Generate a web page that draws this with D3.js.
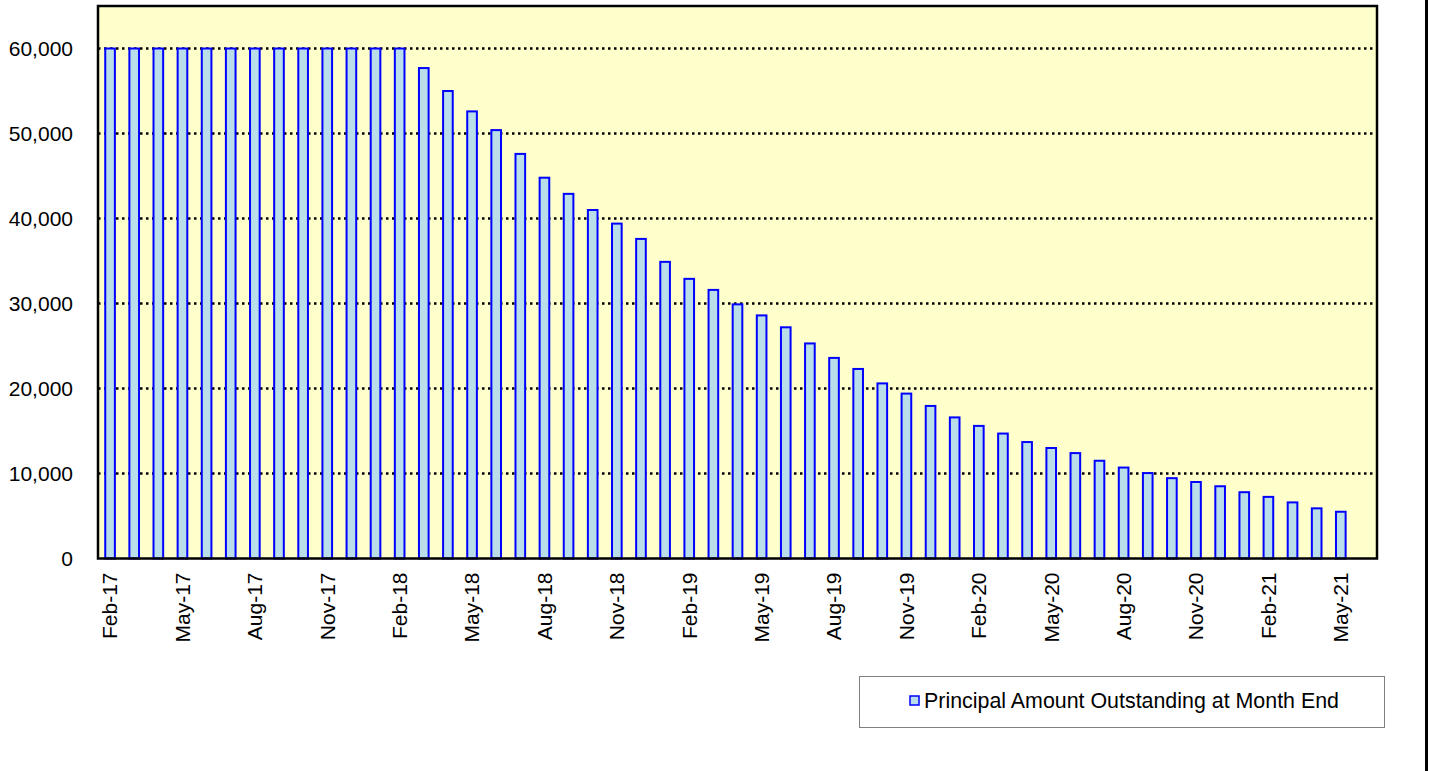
<!DOCTYPE html>
<html>
<head>
<meta charset="utf-8">
<script src="https://cdn.jsdelivr.net/npm/d3@7"></script>
<style>
  html, body { margin: 0; padding: 0; background: #fff; }
  svg { display: block; }
  text { font-family: "Liberation Sans", Arial, sans-serif; fill: #000; }
</style>
</head>
<body>
<svg id="chart" width="1433" height="771"></svg>
<script>
const months = [
  "Feb-17","Mar-17","Apr-17","May-17","Jun-17","Jul-17","Aug-17","Sep-17","Oct-17","Nov-17","Dec-17",
  "Jan-18","Feb-18","Mar-18","Apr-18","May-18","Jun-18","Jul-18","Aug-18","Sep-18","Oct-18","Nov-18","Dec-18",
  "Jan-19","Feb-19","Mar-19","Apr-19","May-19","Jun-19","Jul-19","Aug-19","Sep-19","Oct-19","Nov-19","Dec-19",
  "Jan-20","Feb-20","Mar-20","Apr-20","May-20","Jun-20","Jul-20","Aug-20","Sep-20","Oct-20","Nov-20","Dec-20",
  "Jan-21","Feb-21","Mar-21","Apr-21","May-21","Jun-21"
];
const principal = [
  60000,60000,60000,60000,60000,60000,60000,60000,60000,60000,60000,
  60000,60000,57700,55000,52600,50400,47600,44800,42900,41000,39400,37600,
  34900,32900,31600,29900,28600,27200,25300,23600,22300,20600,19400,17950,
  16600,15600,14700,13700,13000,12400,11500,10700,10050,9450,9000,8500,
  7800,7250,6600,5900,5500,null
];
const yTicks = [0,10000,20000,30000,40000,50000,60000];
const xTickLabels = ["Feb-17","May-17","Aug-17","Nov-17","Feb-18","May-18","Aug-18","Nov-18",
  "Feb-19","May-19","Aug-19","Nov-19","Feb-20","May-20","Aug-20","Nov-20","Feb-21","May-21"];
const seriesName = "Principal Amount Outstanding at Month End";

const svg = d3.select("#chart");
const plot = {left: 98, right: 1377, top: 6, bottom: 558.5};
const FONT = '"Liberation Sans", Arial, sans-serif';

const x = d3.scaleBand().domain(months).range([plot.left, plot.right]).paddingInner(0.6).paddingOuter(0.3);
const y = d3.scaleLinear().domain([0, 65000]).range([plot.bottom, plot.top]);

// plot background
svg.append("rect")
  .attr("x", plot.left).attr("y", plot.top)
  .attr("width", plot.right - plot.left).attr("height", plot.bottom - plot.top)
  .attr("fill", "#ffffcc");

// gridlines
svg.append("g").selectAll("line")
  .data(yTicks.filter(d => d > 0))
  .join("line")
  .attr("x1", plot.left).attr("x2", plot.right)
  .attr("y1", d => y(d)).attr("y2", d => y(d))
  .attr("stroke", "#000").attr("stroke-width", 2.5)
  .attr("stroke-dasharray", "2.5,3.5");

// bars
const data = months.map((m, i) => ({m, v: principal[i]})).filter(d => d.v != null);
svg.append("g").selectAll("rect")
  .data(data)
  .join("rect")
  .attr("x", d => x(d.m))
  .attr("y", d => y(d.v))
  .attr("width", x.bandwidth())
  .attr("height", d => y(0) - y(d.v))
  .attr("fill", "#b9dde9")
  .attr("stroke", "#0000ff")
  .attr("stroke-width", 2);

// plot border
svg.append("rect")
  .attr("x", plot.left).attr("y", plot.top)
  .attr("width", plot.right - plot.left).attr("height", plot.bottom - plot.top)
  .attr("fill", "none").attr("stroke", "#000").attr("stroke-width", 2.5);

// y axis
const yAxis = d3.axisLeft(y).tickValues(yTicks).tickSize(0).tickPadding(25)
  .tickFormat(d3.format(","));
const gy = svg.append("g").attr("transform", `translate(${plot.left},0)`).call(yAxis);
gy.select(".domain").remove();
gy.selectAll("text").style("font-size", "21px").style("font-family", FONT).attr("dy", "0.35em");

// x axis
const xAxis = d3.axisBottom(x).tickValues(xTickLabels).tickSize(0).tickPadding(0);
const gx = svg.append("g").attr("transform", `translate(0,${plot.bottom})`).call(xAxis);
gx.select(".domain").remove();
gx.selectAll("text")
  .style("font-size", "21px").style("font-family", FONT)
  .attr("text-anchor", "end")
  .attr("transform", "rotate(-90)")
  .attr("x", -14).attr("y", 0).attr("dy", "0.35em");

// legend
const lg = svg.append("g");
lg.append("rect").attr("x", 859.5).attr("y", 676.5).attr("width", 525).attr("height", 51)
  .attr("fill", "#fff").attr("stroke", "#808080").attr("stroke-width", 1);
lg.append("rect").attr("x", 910).attr("y", 696).attr("width", 9).attr("height", 9)
  .attr("fill", "#b9dde9").attr("stroke", "#0000ff").attr("stroke-width", 1.5);
lg.append("text").attr("x", 924).attr("y", 701).attr("dy", "0.35em")
  .style("font-size", "21.4px").style("font-family", FONT).text(seriesName);

// right frame line
svg.append("line").attr("x1", 1426.5).attr("x2", 1426.5).attr("y1", 0).attr("y2", 771)
  .attr("stroke", "#000").attr("stroke-width", 3);
</script>
</body>
</html>
